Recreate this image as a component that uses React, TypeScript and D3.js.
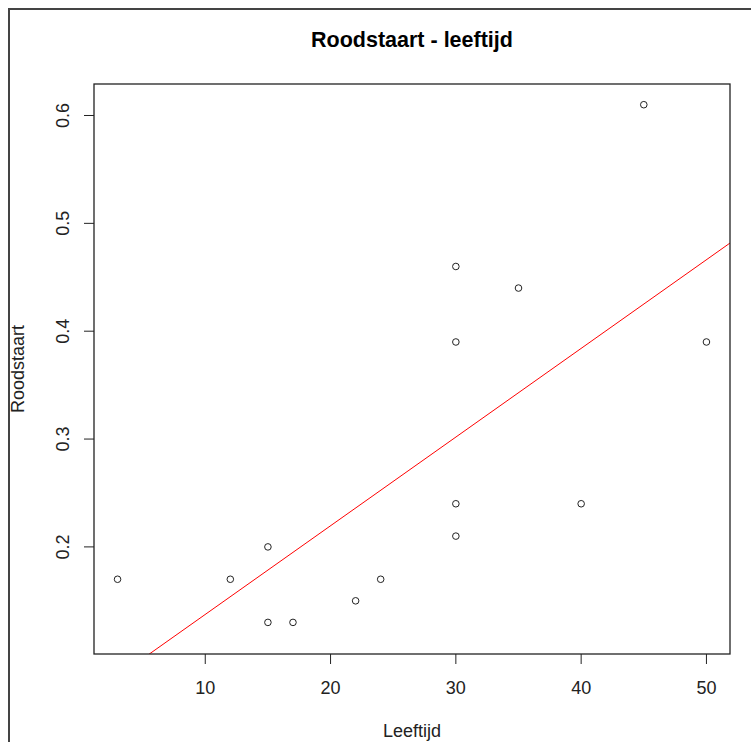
import React, { useEffect, useRef } from 'react';
import * as d3 from 'd3';

// Leeftijd vs Roodstaart
const leeftijd = [3, 12, 15, 15, 17, 22, 24, 30, 30, 30, 30, 35, 40, 45, 50];
const roodstaart = [0.17, 0.17, 0.2, 0.13, 0.13, 0.15, 0.17, 0.46, 0.39, 0.24, 0.21, 0.44, 0.24, 0.61, 0.39];
const xTicks = [10, 20, 30, 40, 50];
const yTicks = [0.2, 0.3, 0.4, 0.5, 0.6];
const xDomain: [number, number] = [1.12, 51.88];
const yDomain: [number, number] = [0.1007, 0.6292];

const W = 751;
const H = 742;

export default function App() {
  const svgRef = useRef<SVGSVGElement>(null);

  useEffect(() => {
    document.body.style.margin = '0';
    if (!svgRef.current) return;

    const margin = { top: 84, right: 21, bottom: 88, left: 94 };
    const x = d3.scaleLinear().domain(xDomain).range([margin.left, W - margin.right]);
    const y = d3.scaleLinear().domain(yDomain).range([H - margin.bottom, margin.top]);

    const svg = d3.select(svgRef.current);
    svg.selectAll('*').remove();

    const font = 'Liberation Sans, Arial, sans-serif';

    // outer device frame (cropped)
    svg.append('path')
      .attr('d', `M9,${H} L9,9 L${W},9`)
      .attr('fill', 'none')
      .attr('stroke', '#444')
      .attr('stroke-width', 2);

    svg.append('clipPath').attr('id', 'plotclip')
      .append('rect')
      .attr('x', x(xDomain[0])).attr('y', y(yDomain[1]))
      .attr('width', x(xDomain[1]) - x(xDomain[0]))
      .attr('height', y(yDomain[0]) - y(yDomain[1]));

    // regression line (least squares, like abline(lm))
    const mx = d3.mean(leeftijd)!;
    const my = d3.mean(roodstaart)!;
    const sxy = d3.sum(leeftijd, (v, i) => (v - mx) * (roodstaart[i] - my));
    const sxx = d3.sum(leeftijd, v => (v - mx) * (v - mx));
    const slope = sxy / sxx;
    const intercept = my - slope * mx;
    svg.append('line')
      .attr('clip-path', 'url(#plotclip)')
      .attr('x1', x(0)).attr('y1', y(intercept))
      .attr('x2', x(60)).attr('y2', y(intercept + slope * 60))
      .attr('stroke', '#ff0000')
      .attr('stroke-width', 1);

    // points
    svg.selectAll('.pt')
      .data(leeftijd)
      .enter().append('circle')
      .attr('class', 'pt')
      .attr('cx', d => x(d))
      .attr('cy', (d, i) => y(roodstaart[i]))
      .attr('r', 3.3)
      .attr('fill', 'none')
      .attr('stroke', '#222')
      .attr('stroke-width', 1);

    // plot box
    svg.append('rect')
      .attr('x', x(xDomain[0])).attr('y', y(yDomain[1]))
      .attr('width', x(xDomain[1]) - x(xDomain[0]))
      .attr('height', y(yDomain[0]) - y(yDomain[1]))
      .attr('fill', 'none')
      .attr('stroke', '#222')
      .attr('stroke-width', 1.3);

    const bottom = y(yDomain[0]);
    const left = x(xDomain[0]);

    // x axis
    xTicks.forEach(t => {
      svg.append('line')
        .attr('x1', x(t)).attr('x2', x(t))
        .attr('y1', bottom).attr('y2', bottom + 10)
        .attr('stroke', '#222');
      svg.append('text')
        .attr('x', x(t)).attr('y', 694)
        .attr('text-anchor', 'middle')
        .style('font-family', font).style('font-size', '18px')
        .attr('fill', '#222')
        .text(String(t));
    });

    // y axis
    yTicks.forEach(t => {
      svg.append('line')
        .attr('x1', left - 10).attr('x2', left)
        .attr('y1', y(t)).attr('y2', y(t))
        .attr('stroke', '#222');
      svg.append('text')
        .attr('transform', `translate(69,${y(t)}) rotate(-90)`)
        .attr('text-anchor', 'middle')
        .style('font-family', font).style('font-size', '18px')
        .attr('fill', '#222')
        .text(String(t));
    });

    // titles
    svg.append('text')
      .attr('x', (x(xDomain[0]) + x(xDomain[1])) / 2).attr('y', 47)
      .attr('text-anchor', 'middle')
      .style('font-family', font).style('font-size', '21.5px').style('font-weight', 'bold')
      .attr('fill', '#000')
      .text('Roodstaart - leeftijd');

    svg.append('text')
      .attr('x', (x(xDomain[0]) + x(xDomain[1])) / 2).attr('y', 737)
      .attr('text-anchor', 'middle')
      .style('font-family', font).style('font-size', '18px')
      .attr('fill', '#222')
      .text('Leeftijd');

    svg.append('text')
      .attr('transform', `translate(24,${(y(yDomain[0]) + y(yDomain[1])) / 2}) rotate(-90)`)
      .attr('text-anchor', 'middle')
      .style('font-family', font).style('font-size', '18px')
      .attr('fill', '#222')
      .text('Roodstaart');
  }, []);

  return (
    <div style={{ position: 'absolute', left: 0, top: 0, width: W, height: H, background: '#fff' }}>
      <svg ref={svgRef} width={W} height={H} style={{ display: 'block' }}></svg>
    </div>
  );
}
